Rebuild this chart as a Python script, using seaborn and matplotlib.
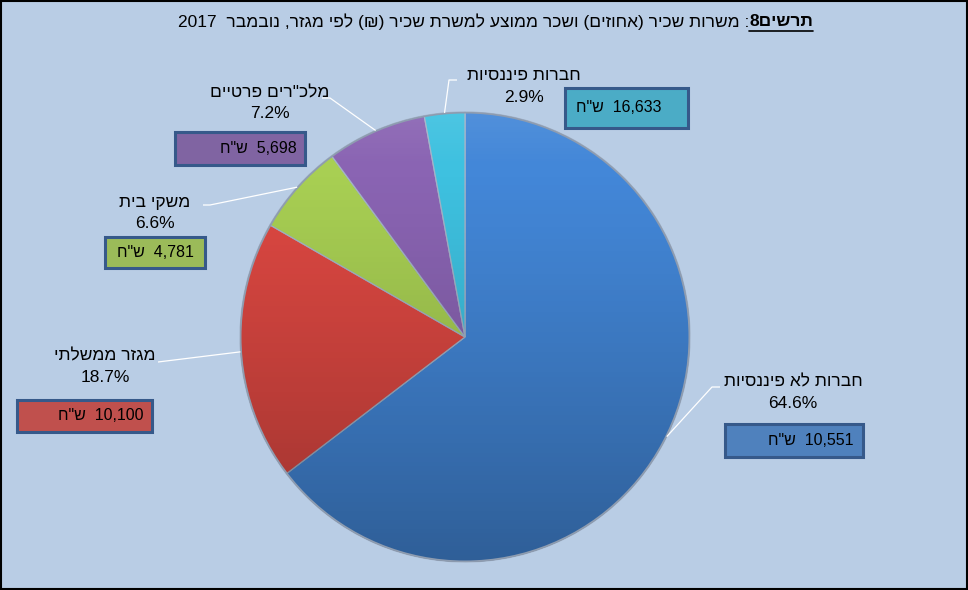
import re
import numpy as np
import matplotlib
matplotlib.use('Agg')
import matplotlib.pyplot as plt
from matplotlib.patches import Rectangle, Circle
import seaborn as sns

# data
sectors = ['חברות לא פיננסיות', 'מגזר ממשלתי', 'משקי בית', 'מלכ"רים פרטיים', 'חברות פיננסיות']
shares = [64.6, 18.7, 6.6, 7.2, 2.9]
wages = [10551, 10100, 4781, 5698, 16633]
currency = 'ש"ח'
title_bold = 'תרשים8'
title_rest = ': משרות שכיר (אחוזים) ושכר ממוצע למשרת שכיר (₪) לפי מגזר, נובמבר  2017'

slice_colors = sns.color_palette(['#4387d8', '#dd4842', '#a8cf53', '#8a64b3', '#3ec1e0'])
box_colors = ['#4f81bd', '#c0504d', '#9bbb59', '#8064a2', '#4bacc6']

# layout in pixels (y from top)
label_pos = [(793, 382), (105, 356), (155, 202), (270, 93), (524, 76)]
box_pos = [(725, 424, 863, 457), (17, 400, 152, 432), (105, 237, 205, 268),
           (175, 132, 305, 165), (565, 88, 688, 128)]
box_text_right = [853, 143, 194, 297, 662]
elbows = [((712, 387), (720, 387)), ((166, 361), (158, 362)), ((210, 205), (203, 205)),
          ((330, 98), (322, 98)), ((449, 80), (457, 80))]

MIRROR = str.maketrans('()', ')(')


def rtl(s):
    # crude bidi: reverse hebrew runs, keep number runs as they are
    parts = re.findall(r'[0-9][0-9.,%]*|[^0-9]+', s)
    out = []
    for p in reversed(parts):
        if p[0].isdigit():
            out.append(p)
        else:
            out.append(p[::-1].translate(MIRROR))
    return ''.join(out)


sns.set_style('white')
plt.rcParams['font.family'] = ['Liberation Sans', 'DejaVu Sans']

W, H = 968, 590
fig = plt.figure(figsize=(W / 100, H / 100), dpi=100)
fig.patch.set_facecolor('#b9cde5')

# pie
cx, cy, r = 465, 337, 225
ax = fig.add_axes([(cx - r) / W, (H - cy - r) / H, 2 * r / W, 2 * r / H])
ax.set_facecolor('none')
wedges, _ = ax.pie(shares, colors=slice_colors, startangle=90, counterclock=False,
                   radius=1, wedgeprops=dict(edgecolor='#a3b3c8', linewidth=0.9))
ax.set_xlim(-1.0, 1.0)
ax.set_ylim(-1.0, 1.0)
ax.set_aspect('equal')
ax.axis('off')

# shading overlay for the glossy look
t = np.linspace(0, 1, 300)
grad = np.zeros((300, 1, 4))
top = t < 0.12
grad[top, 0, :3] = 1.0
grad[top, 0, 3] = 0.08 * (0.12 - t[top]) / 0.12
grad[~top, 0, 3] = 0.30 * ((t[~top] - 0.12) / 0.88) ** 1.2
im = ax.imshow(grad, extent=(-1, 1, -1, 1), aspect='auto', zorder=3)
im.set_clip_path(Circle((0, 0), 1, transform=ax.transData))
ax.add_patch(Circle((0, 0), 0.997, fill=False, edgecolor='#8e9cb0', lw=1.2, zorder=4))

# overlay axes in pixel coords
ov = fig.add_axes([0, 0, 1, 1], zorder=5)
ov.set_xlim(0, W)
ov.set_ylim(H, 0)
ov.axis('off')
ov.patch.set_alpha(0)

for i, w in enumerate(wedges):
    mid = np.deg2rad((w.theta1 + w.theta2) / 2)
    px, py = ax.transData.transform((np.cos(mid), np.sin(mid)))
    start = (px, H - py)
    (ex, ey), (fx, fy) = elbows[i]
    ov.plot([start[0], ex, fx], [start[1], ey, fy], color='white', lw=0.9, solid_capstyle='butt')

    lx, ly = label_pos[i]
    ov.text(lx, ly, rtl(sectors[i]), ha='center', va='center', fontsize=12.5, color='black')
    ov.text(lx, ly + 21, f'{shares[i]:.1f}%', ha='center', va='center', fontsize=12.5, color='black')

    x0, y0, x1, y1 = box_pos[i]
    ov.add_patch(Rectangle((x0, y0), x1 - x0, y1 - y0, facecolor=box_colors[i],
                           edgecolor='#36598a', lw=2.2))
    ov.text(box_text_right[i], (y0 + y1) / 2, rtl(f'{wages[i]:,}  {currency}'),
            ha='right', va='center', fontsize=11.5, color='black')

# title: bold underlined part on the right, the rest to its left
tb = ov.text(813, 22, rtl(title_bold), ha='right', va='center', fontsize=12.5,
             fontweight='bold', color='black')
fig.canvas.draw()
bb = tb.get_window_extent()
ov.plot([bb.x0, bb.x1], [H - bb.y0 + 1, H - bb.y0 + 1], color='black', lw=1.2)
ov.text(bb.x0, 22, rtl(title_rest), ha='right', va='center', fontsize=12.5, color='black')

# figure border
ov.add_patch(Rectangle((0.5, 0.5), W - 1.5, H - 1.5, fill=False, edgecolor='black', lw=1.5))

fig.savefig('out.png', dpi=100, facecolor=fig.get_facecolor())
